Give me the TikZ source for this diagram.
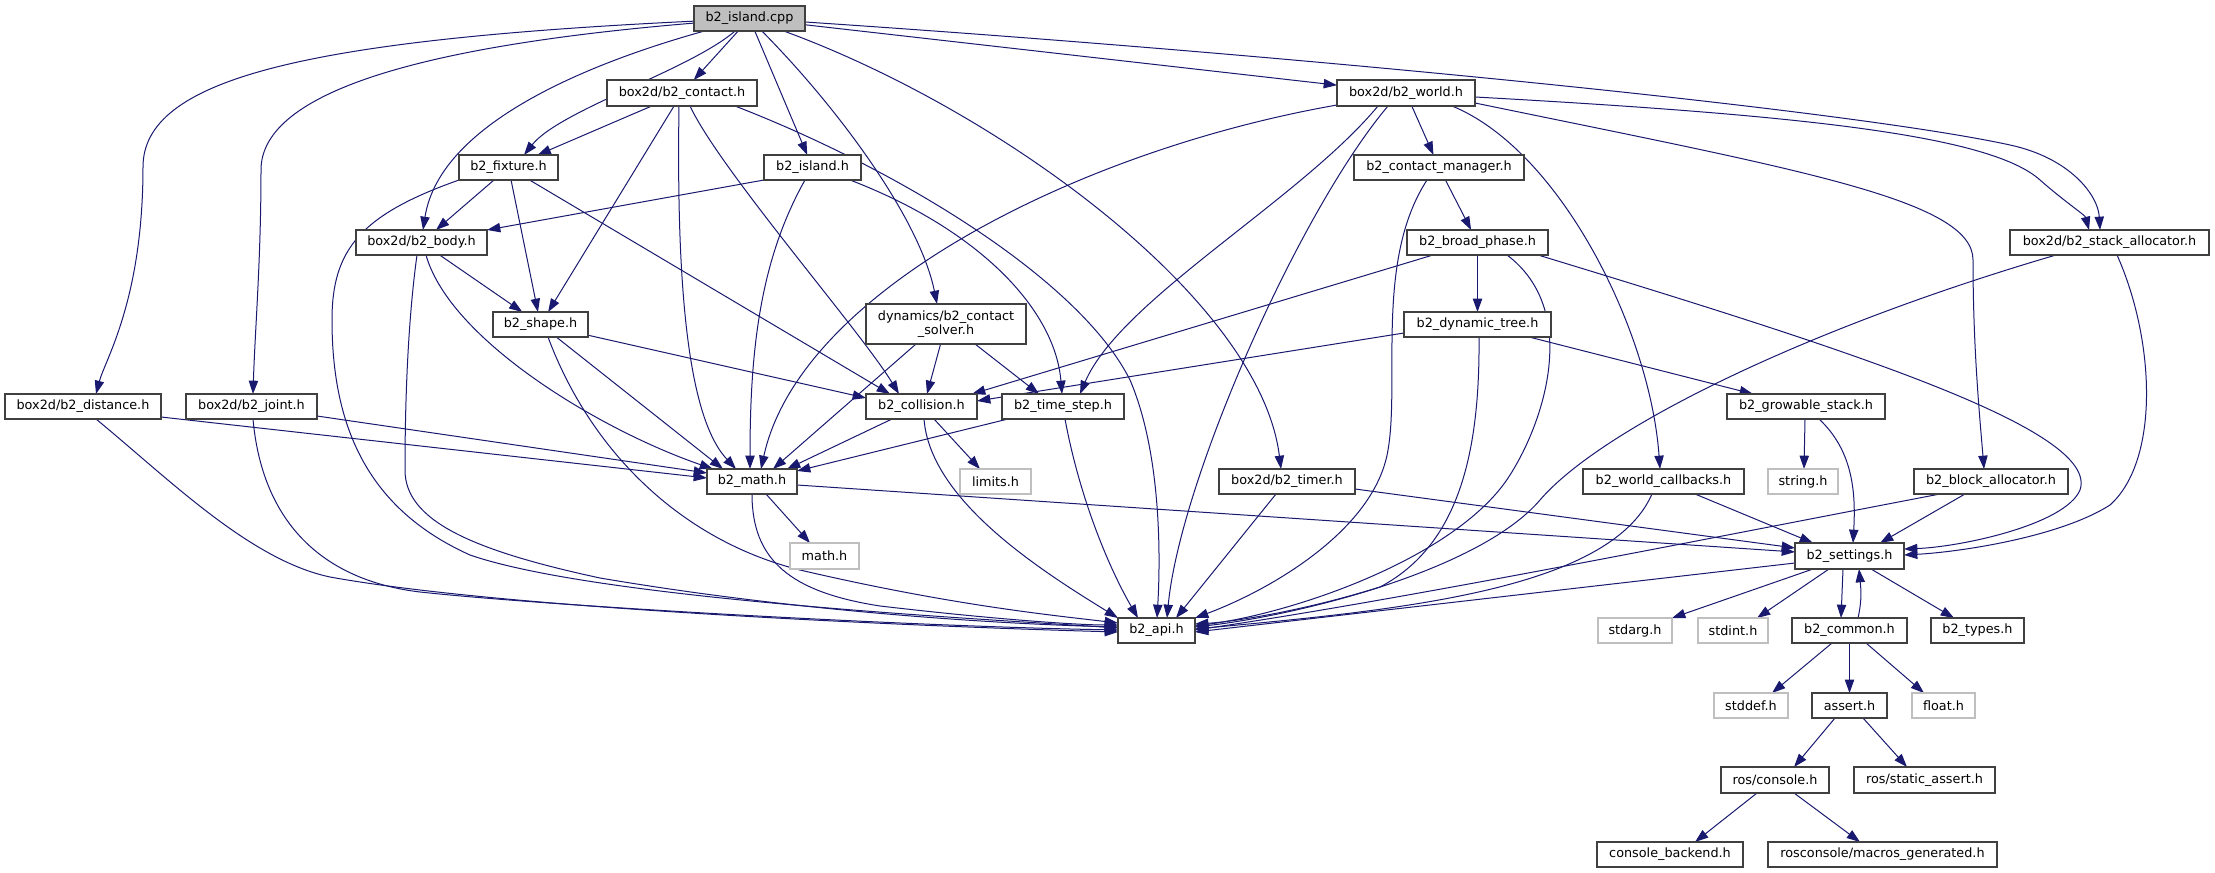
\documentclass[tikz,border=0pt]{standalone}
\usepackage{fontspec}
\setmainfont{DejaVu Sans}
\usetikzlibrary{arrows.meta,backgrounds}
\definecolor{edgec}{HTML}{191970}
\definecolor{bordc}{HTML}{404040}
\definecolor{grayb}{HTML}{BFBFBF}
\newcommand\NB[7]{\node[#6, minimum width={(#4-#2)*0.75pt}, minimum height={(#5-#3)*0.75pt}] (#1) at ({(#2+#4)/2},{(#3+#5)/2}) {#7};}
\begin{document}
\begin{tikzpicture}[x=0.75pt,y=-0.75pt,
 hnode/.style={draw=bordc, line width=0.8pt, fill=white, inner sep=0pt, outer sep=0pt, rectangle, font=\fontsize{9.6}{11}\selectfont, text=black},
 sysnode/.style={hnode, draw=grayb},
 rootnode/.style={hnode, fill=grayb},
 edge/.style={draw=edgec, line width=0.75pt, -{Triangle[length=10pt,width=7pt]}}]
\useasboundingbox (0,0) rectangle (2215,873);
\NB{cpp}{694}{6}{805}{31}{rootnode}{b2\_island.cpp}
\NB{contact}{607}{80}{757}{106}{hnode}{box2d/b2\_contact.h}
\NB{world}{1337}{80}{1475}{106}{hnode}{box2d/b2\_world.h}
\NB{fixture}{459}{155}{558}{180}{hnode}{b2\_fixture.h}
\NB{islandh}{764}{155}{861}{180}{hnode}{b2\_island.h}
\NB{cmgr}{1354}{155}{1524}{180}{hnode}{b2\_contact\_manager.h}
\NB{body}{356}{230}{487}{255}{hnode}{box2d/b2\_body.h}
\NB{broad}{1407}{230}{1548}{255}{hnode}{b2\_broad\_phase.h}
\NB{stack}{2010}{230}{2209}{255}{hnode}{box2d/b2\_stack\_allocator.h}
\NB{shape}{493}{312}{588}{337}{hnode}{b2\_shape.h}
\NB{solver}{866}{304}{1026}{344}{hnode, align=center}{dynamics/b2\_contact\\\_solver.h}
\NB{dyntree}{1404}{312}{1551}{337}{hnode}{b2\_dynamic\_tree.h}
\NB{distance}{5}{394}{161}{419}{hnode}{box2d/b2\_distance.h}
\NB{joint}{186}{394}{317}{419}{hnode}{box2d/b2\_joint.h}
\NB{collision}{866}{394}{977}{419}{hnode}{b2\_collision.h}
\NB{timestep}{1002}{394}{1124}{419}{hnode}{b2\_time\_step.h}
\NB{growable}{1727}{394}{1885}{419}{hnode}{b2\_growable\_stack.h}
\NB{math}{707}{469}{797}{494}{hnode}{b2\_math.h}
\NB{limits}{960}{469}{1031}{494}{sysnode}{limits.h}
\NB{timer}{1219}{469}{1355}{494}{hnode}{box2d/b2\_timer.h}
\NB{wcb}{1583}{469}{1744}{494}{hnode}{b2\_world\_callbacks.h}
\NB{string}{1768}{469}{1838}{494}{sysnode}{string.h}
\NB{block}{1914}{469}{2068}{494}{hnode}{b2\_block\_allocator.h}
\NB{mathh}{790}{543}{859}{569}{sysnode}{math.h}
\NB{settings}{1795}{543}{1904}{569}{hnode}{b2\_settings.h}
\NB{api}{1118}{618}{1195}{643}{hnode}{b2\_api.h}
\NB{stdarg}{1598}{618}{1672}{643}{sysnode}{stdarg.h}
\NB{stdint}{1698}{618}{1768}{643}{sysnode}{stdint.h}
\NB{common}{1792}{618}{1907}{643}{hnode}{b2\_common.h}
\NB{types}{1931}{618}{2024}{643}{hnode}{b2\_types.h}
\NB{stddef}{1714}{693}{1788}{718}{sysnode}{stddef.h}
\NB{assert}{1812}{693}{1887}{718}{hnode}{assert.h}
\NB{float}{1912}{693}{1975}{718}{sysnode}{float.h}
\NB{rcons}{1721}{767}{1829}{793}{hnode}{ros/console.h}
\NB{sassert}{1854}{767}{1995}{793}{hnode}{ros/static\_assert.h}
\NB{backend}{1597}{842}{1743}{867}{hnode}{console\_backend.h}
\NB{macros}{1768}{842}{1997}{867}{hnode}{rosconsole/macros\_generated.h}
\begin{pgfonlayer}{background}
\fill[white] (0,0) rectangle (2215,873);
% from b2_island.cpp
\draw[edge] (cpp) .. controls (300,40) and (143,80) .. (143,167) .. controls (143,300) and (105,360) .. (distance.north -| 96,0);
\draw[edge] (cpp) .. controls (430,45) and (261,90) .. (261,170) .. controls (261,260) and (255,330) .. (joint.north -| 253,0);
\draw[edge] (cpp) .. controls (600,60) and (440,120) .. (body.north -| 423,0);
\draw[edge] (cpp) .. controls (690,70) and (560,110) .. (fixture.north -| 524,0);
\draw[edge] (cpp) -- (contact);
\draw[edge] (cpp) -- (islandh);
\draw[edge] (cpp) .. controls (840,110) and (920,220) .. (solver.north -| 937,0);
\draw[edge] (cpp) .. controls (1000,110) and (1260,300) .. (timer.north -| 1281,0);
\draw[edge] (cpp) -- (world);
\draw[edge] (cpp.east |- 0,22) .. controls (1300,55) and (1850,110) .. (2010,145) .. controls (2070,158) and (2098,195) .. (stack.north -| 2100,0);
% box2d/b2_world.h
\draw[edge] (world.east |- 0,97) .. controls (1800,115) and (1990,135) .. (2040,180) .. controls (2065,202) and (2085,215) .. (stack.north -| 2089,0);
\draw[edge] (world.west |- 0,105) .. controls (1080,150) and (800,290) .. (math.north -| 761,0);
\draw[edge] (world.south -| 1378,0) .. controls (1300,200) and (1120,300) .. (timestep.north -| 1080,0);
\draw[edge] (world.south -| 1388,0) .. controls (1300,210) and (1180,480) .. (api.north -| 1167,0);
\draw[edge] (world) -- (cmgr);
\draw[edge] (world.south -| 1452,0) .. controls (1560,150) and (1650,330) .. (wcb.north -| 1660,0);
\draw[edge] (world.east |- 0,103) .. controls (1800,170) and (1973,200) .. (1973,260) .. controls (1973,350) and (1980,420) .. (block.north -| 1984,0);
% box2d/b2_contact.h
\draw[edge] (contact) -- (fixture);
\draw[edge] (contact) -- (shape);
\draw[edge] (contact.south -| 679,0) .. controls (676,300) and (690,420) .. (math.north -| 736,0);
\draw[edge] (contact.south -| 690,0) .. controls (720,170) and (860,330) .. (collision.north -| 899,0);
\draw[edge] (contact.south -| 735,0) .. controls (900,170) and (1080,280) .. (1130,380) .. controls (1160,450) and (1161,550) .. (api.north -| 1157,0);
% b2_fixture.h
\draw[edge] (fixture) -- (body);
\draw[edge] (fixture) -- (shape);
\draw[edge] (fixture) -- (collision.north -| 890,0);
\draw[edge] (fixture.south west) .. controls (360,215) and (332,250) .. (332,320) .. controls (332,430) and (370,510) .. (470,555) .. controls (600,600) and (1000,620) .. (api.west |- 0,628);
% box2d/b2_body.h
\draw[edge] (body) -- (shape);
\draw[edge] (body.south -| 426,0) .. controls (450,340) and (600,430) .. (math.north -| 713,0);
\draw[edge] (body.south -| 417,0) .. controls (408,320) and (405,400) .. (405,470) .. controls (405,520) and (470,550) .. (600,578) .. controls (800,612) and (1000,624) .. (api.west |- 0,627);
% b2_shape.h
\draw[edge] (shape) -- (collision.west |- 0,398);
\draw[edge] (shape) -- (math.north -| 723,0);
\draw[edge] (shape.south -| 548,0) .. controls (590,450) and (680,540) .. (800,570) .. controls (950,605) and (1050,615) .. (api.west |- 0,623);
% b2_island.h
\draw[edge] (islandh.south west) -- (body.north east);
\draw[edge] (islandh.south -| 805,0) .. controls (760,260) and (750,350) .. (math.north -| 750,0);
\draw[edge] (islandh.south -| 850,0) .. controls (980,230) and (1055,310) .. (timestep.north -| 1062,0);
% dynamics/b2_contact_solver.h
\draw[edge] (solver.south -| 916,0) -- (math.north -| 773,0);
\draw[edge] (solver) -- (collision.north -| 927,0);
\draw[edge] (solver.south -| 975,0) -- (timestep.north -| 1039,0);
% b2_collision.h
\draw[edge] (collision.south -| 892,0) -- (math.north -| 787,0);
\draw[edge] (collision.south -| 934,0) -- (limits.north -| 980,0);
\draw[edge] (collision.south -| 924,0) .. controls (930,500) and (1040,570) .. (api.north west);
% b2_time_step.h
\draw[edge] (timestep.south -| 1008,0) -- (math.east |- 0,471);
\draw[edge] (timestep.south -| 1065,0) .. controls (1080,500) and (1110,570) .. (api.north -| 1138,0);
% box2d/b2_distance.h, box2d/b2_joint.h
\draw[edge] (distance.east |- 0,417) -- (math.west |- 0,478);
\draw[edge] (distance.south -| 96,0) .. controls (170,480) and (250,560) .. (330,577) .. controls (500,608) and (900,626) .. (api.west |- 0,632);
\draw[edge] (joint.east |- 0,416) -- (math.west |- 0,473);
\draw[edge] (joint.south -| 253,0) .. controls (262,520) and (320,580) .. (420,592) .. controls (550,606) and (900,626) .. (api.west |- 0,630);
% b2_math.h
\draw[edge] (math.south -| 766,0) -- (mathh.north -| 810,0);
\draw[edge] (math.south -| 752,0) .. controls (752,560) and (790,592) .. (880,606) .. controls (1000,620) and (1080,625) .. (api.west |- 0,625);
\draw[edge] (math.east |- 0,485) -- (settings.west |- 0,552);
% box2d/b2_timer.h
\draw[edge] (timer.south -| 1276,0) -- (api.north -| 1176,0);
\draw[edge] (timer.east |- 0,489) -- (settings.west |- 0,548);
% b2_contact_manager.h, b2_broad_phase.h, b2_dynamic_tree.h
\draw[edge] (cmgr) -- (broad);
\draw[edge] (cmgr.south -| 1427,0) .. controls (1375,260) and (1400,380) .. (1388,450) .. controls (1375,530) and (1270,590) .. (api.north east);
\draw[edge] (broad) -- (dyntree);
\draw[edge] (broad.south -| 1433,0) -- (collision.north -| 972,0);
\draw[edge] (broad.south -| 1507,0) .. controls (1580,310) and (1545,420) .. (1510,475) .. controls (1460,555) and (1300,612) .. (api.east |- 0,626);
\draw[edge] (broad.south -| 1538,0) .. controls (1850,350) and (2100,430) .. (2080,490) .. controls (2065,525) and (1960,547) .. (settings.east |- 0,549);
\draw[edge] (dyntree.west |- 0,333) -- (collision.east |- 0,401);
\draw[edge] (dyntree.south -| 1529,0) -- (growable.north -| 1753,0);
\draw[edge] (dyntree.south -| 1479,0) .. controls (1480,450) and (1460,545) .. (1380,587) .. controls (1300,612) and (1230,622) .. (api.east |- 0,624);
% b2_growable_stack.h, b2_world_callbacks.h, b2_block_allocator.h, stack allocator
\draw[edge] (growable.south -| 1805,0) -- (string.north -| 1804,0);
\draw[edge] (growable.south -| 1819,0) .. controls (1852,450) and (1856,490) .. (settings.north -| 1853,0);
\draw[edge] (wcb.south -| 1695,0) -- (settings.north -| 1813,0);
\draw[edge] (wcb.south -| 1652,0) .. controls (1610,590) and (1400,610) .. (api.east |- 0,629);
\draw[edge] (block.south -| 1965,0) -- (settings.north -| 1880,0);
\draw[edge] (block.south -| 1940,0) .. controls (1700,540) and (1400,600) .. (api.east |- 0,630);
\draw[edge] (stack.south -| 2056,0) .. controls (1800,330) and (1600,430) .. (1540,500) .. controls (1480,570) and (1300,615) .. (api.east |- 0,627);
\draw[edge] (stack.south -| 2117,0) .. controls (2155,340) and (2160,460) .. (2110,505) .. controls (2060,537) and (1960,552) .. (settings.east |- 0,555);
% b2_settings.h and below
\draw[edge] (settings.west |- 0,563) -- (api.east |- 0,632);
\draw[edge] (settings.south -| 1813,0) -- (stdarg.north east);
\draw[edge] (settings.south -| 1829,0) -- (stdint.north -| 1757,0);
\draw[edge] (settings.south -| 1843,0) -- (common.north -| 1841,0);
\draw[edge] (common.north -| 1858,0) .. controls (1862,600) and (1861,590) .. (settings.south -| 1859,0);
\draw[edge] (settings.south -| 1871,0) -- (types.north -| 1954,0);
\draw[edge] (common.south -| 1832,0) -- (stddef.north -| 1772,0);
\draw[edge] (common) -- (assert);
\draw[edge] (common.south -| 1866,0) -- (float.north -| 1924,0);
\draw[edge] (assert.south -| 1835,0) -- (rcons.north -| 1794,0);
\draw[edge] (assert.south -| 1863,0) -- (sassert.north -| 1907,0);
\draw[edge] (rcons.south -| 1757,0) -- (backend.north -| 1695,0);
\draw[edge] (rcons.south -| 1794,0) -- (macros.north -| 1860,0);
\end{pgfonlayer}
\end{tikzpicture}
\end{document}
